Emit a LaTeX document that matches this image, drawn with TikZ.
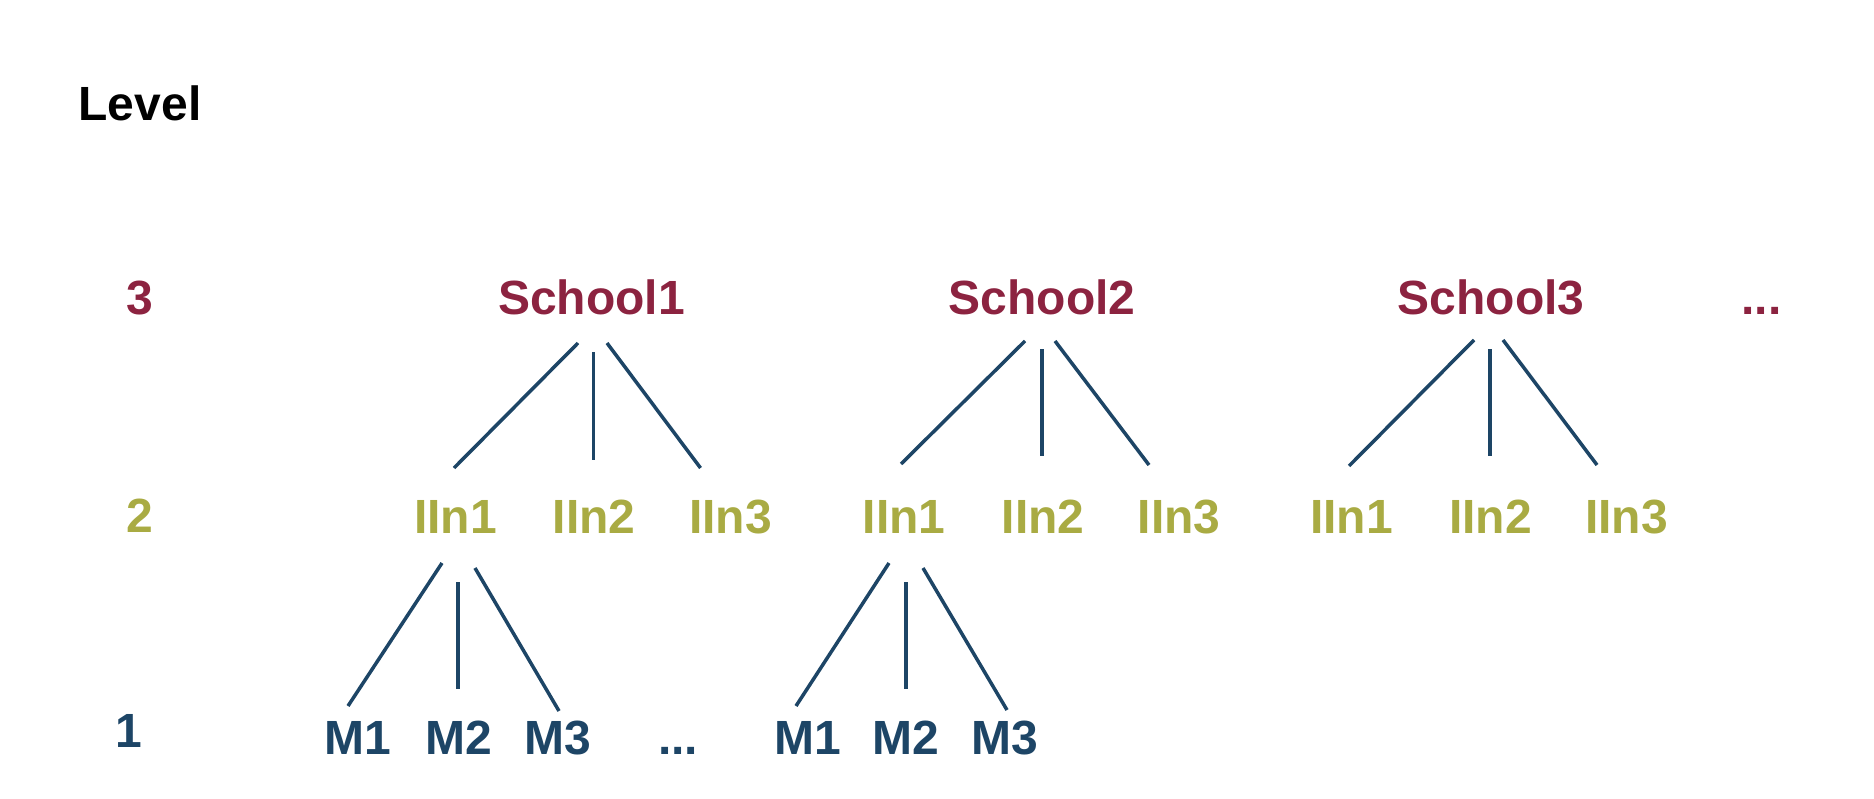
\documentclass[tikz,border=0pt]{standalone}
\usepackage{fontspec}
\setmainfont{Liberation Sans}
\usetikzlibrary{calc}
\definecolor{maroon}{HTML}{8C2340}
\definecolor{olive}{HTML}{A9AB43}
\definecolor{navy}{HTML}{1D4566}
\tikzset{
  lbl/.style={inner sep=0pt, anchor=base, font=\fontsize{48}{56}\selectfont\bfseries},
  lv3/.style={lbl, text=maroon},
  lv2/.style={lbl, text=olive},
  lv1/.style={lbl, text=navy},
  edge/.style={draw=navy, line width=3.5pt}
}
\begin{document}
\begin{tikzpicture}[x=1pt,y=-1pt]
\useasboundingbox (0,0) rectangle (1874,798);
% level labels
\node[lbl] (level) at (140,120) {Level};
\node[lv3] (l3) at (139.5,314) {3};
\node[lv2] (l2) at (139.5,532) {2};
\node[lv1] (l1) at (128.5,747) {1};
% level 3
\node[lv3] (s1) at (591.5,314) {School1};
\node[lv3] (s2) at (1042,314) {School2};
\node[lv3] (s3) at (1491,314) {School3};
\node[lv3] (sdots) at (1761.5,314) {...};
% level 2
\node[lv2] (a1) at (455.5,533) {IIn1};
\node[lv2] (a2) at (594,533) {IIn2};
\node[lv2] (a3) at (730.5,533) {IIn3};
\node[lv2] (b1) at (904,533) {IIn1};
\node[lv2] (b2) at (1043,533) {IIn2};
\node[lv2] (b3) at (1179,533) {IIn3};
\node[lv2] (c1) at (1351.5,533) {IIn1};
\node[lv2] (c2) at (1490.5,533) {IIn2};
\node[lv2] (c3) at (1626.5,533) {IIn3};
% level 1
\node[lv1] (m1) at (358,754) {M1};
\node[lv1] (m2) at (458.5,754) {M2};
\node[lv1] (m3) at (558,754) {M3};
\node[lv1] (mdots) at (678,754) {...};
\node[lv1] (n1) at (807.5,754) {M1};
\node[lv1] (n2) at (906,754) {M2};
\node[lv1] (n3) at (1005,754) {M3};
% edges school1
\draw[edge] ($(s1.base)+(-13.5,29)$) -- ($(a1.base)+(-1.5,-65)$);
\draw[edge] ($(s1.base)+(2,38)$) -- ($(a2.base)+(-0.5,-73)$);
\draw[edge] ($(s1.base)+(15.5,29)$) -- ($(a3.base)+(-30,-65)$);
% edges school2
\draw[edge] ($(s2.base)+(-17,27)$) -- ($(b1.base)+(-3,-69)$);
\draw[edge] ($(s2.base)+(0,35)$) -- ($(b2.base)+(-1,-77)$);
\draw[edge] ($(s2.base)+(13,27)$) -- ($(b3.base)+(-30,-68)$);
% edges school3
\draw[edge] ($(s3.base)+(-17,26)$) -- ($(c1.base)+(-2.5,-67)$);
\draw[edge] ($(s3.base)+(-1,35)$) -- ($(c2.base)+(-0.5,-77)$);
\draw[edge] ($(s3.base)+(12,26)$) -- ($(c3.base)+(-29.5,-68)$);
% edges IIn1 (school1)
\draw[edge] ($(a1.base)+(-13.5,30)$) -- ($(m1.base)+(-10,-48)$);
\draw[edge] ($(a1.base)+(2.5,49)$) -- ($(m2.base)+(-0.5,-65)$);
\draw[edge] ($(a1.base)+(19.5,35)$) -- ($(m3.base)+(1,-43)$);
% edges IIn1 (school2)
\draw[edge] ($(b1.base)+(-15,30)$) -- ($(n1.base)+(-11.5,-48)$);
\draw[edge] ($(b1.base)+(2,49)$) -- ($(n2.base)+(0,-65)$);
\draw[edge] ($(b1.base)+(19,35)$) -- ($(n3.base)+(2,-44)$);
\end{tikzpicture}
\end{document}
